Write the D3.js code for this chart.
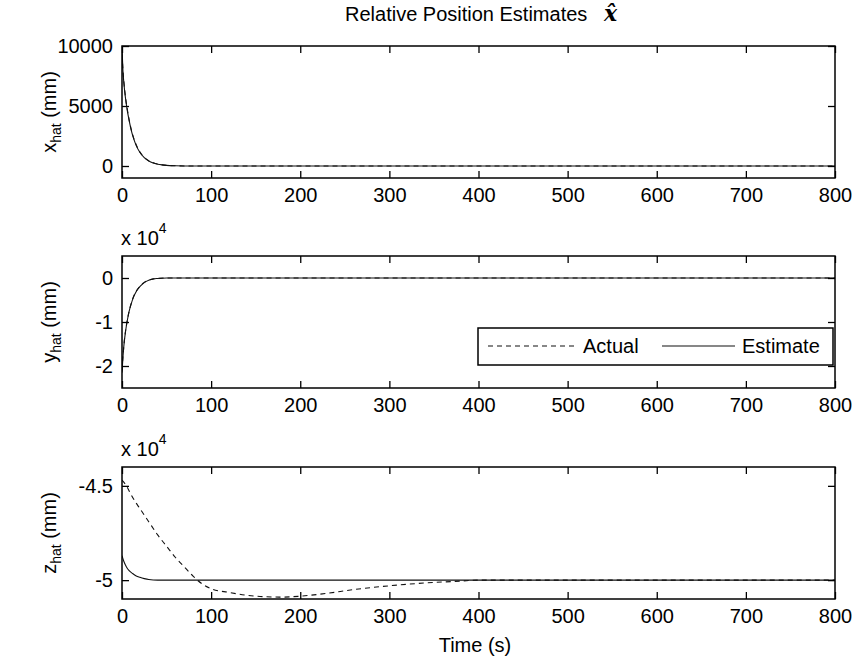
<!DOCTYPE html>
<html>
<head>
<meta charset="utf-8">
<script src="https://cdn.jsdelivr.net/npm/d3@7"></script>
<style>
  body { margin: 0; background: #fff; }
  svg { display: block; font-family: 'Liberation Sans', Arial, sans-serif; }
</style>
</head>
<body>
<div id="chart"></div>
<script>
// time ticks shared by all three panels
const timeTicks = [0, 100, 200, 300, 400, 500, 600, 700, 800];

// x_hat (mm)
const xTime     = [0, 1, 2, 4, 6, 8, 10, 13, 16, 20, 25, 30, 35, 40, 45, 50, 60, 80, 800];
const xActual   = [9300, 8100, 7100, 5700, 4700, 3850, 3150, 2350, 1750, 1180, 720, 440, 270, 160, 95, 55, 20, 0, 0];
const xEstimate = [9900, 8000, 7000, 5600, 4600, 3800, 3100, 2300, 1700, 1150, 700, 420, 250, 150, 90, 50, 20, 0, 0];
const xYTicks = [0, 5000, 10000];

// y_hat (mm)
const yTime     = [0, 1, 2, 4, 6, 8, 10, 13, 16, 20, 25, 30, 35, 40, 50, 800];
const yActual   = [-21000, -18000, -15500, -12000, -9500, -7500, -6000, -4200, -3000, -1900, -1000, -500, -200, -100, 0, 0];
const yEstimate = [-21500, -18200, -15600, -12100, -9600, -7600, -6100, -4300, -3050, -1950, -1050, -520, -220, -100, 0, 0];
const yYTicks = [-20000, -10000, 0];

// z_hat (mm)
const zActualTime = [0, 5, 10, 15, 20, 25, 30, 40, 50, 60, 70, 80, 90, 100, 120, 140, 160, 180, 200, 230, 260, 300, 340, 380, 400, 800];
const zActual     = [-44700, -45000, -45450, -45850, -46200, -46550, -46900, -47600, -48200, -48800, -49300, -49800, -50200, -50450, -50650, -50800, -50880, -50900, -50850, -50700, -50500, -50300, -50150, -50050, -50000, -50000];
const zEstTime    = [0, 2, 5, 8, 12, 16, 20, 25, 30, 40, 800];
const zEstimate   = [-48700, -49000, -49300, -49500, -49650, -49780, -49850, -49920, -49970, -50000, -50000];
const zYTicks = [-50000, -45000];

const legendLabels = ['Actual', 'Estimate'];

const width = 854, height = 662;
const left = 122, right = 835, panelH = 132;

const svg = d3.select('#chart').append('svg')
    .attr('width', width)
    .attr('height', height);

const x = d3.scaleLinear().domain([0, 800]).range([left, right]);

const panels = [
    { top: 46,  domain: [-1000, 10000],  ticks: xYTicks, fmt: d => d, sub: 'x', exp: false,
      actual: xTime.map((t, i) => [t, xActual[i]]), est: xTime.map((t, i) => [t, xEstimate[i]]) },
    { top: 256, domain: [-25000, 5000],  ticks: yYTicks, fmt: d => d / 10000, sub: 'y', exp: true,
      actual: yTime.map((t, i) => [t, yActual[i]]), est: yTime.map((t, i) => [t, yEstimate[i]]) },
    { top: 467, domain: [-51000, -44000], ticks: zYTicks, fmt: d => d / 10000, sub: 'z', exp: true,
      actual: zActualTime.map((t, i) => [t, zActual[i]]), est: zEstTime.map((t, i) => [t, zEstimate[i]]) }
];

panels.forEach((p, idx) => {
    const y = d3.scaleLinear().domain(p.domain).range([p.top + panelH, p.top]);
    const g = svg.append('g');

    g.append('clipPath').attr('id', 'clip' + idx)
        .append('rect').attr('x', left).attr('y', p.top).attr('width', right - left).attr('height', panelH);

    const line = d3.line().x(d => x(d[0])).y(d => y(d[1])).curve(d3.curveMonotoneX);

    g.append('path').datum(p.actual)
        .attr('d', line).attr('fill', 'none').attr('stroke', '#111')
        .attr('stroke-width', 1.1).attr('stroke-dasharray', '5,4')
        .attr('clip-path', `url(#clip${idx})`);
    g.append('path').datum(p.est)
        .attr('d', line).attr('fill', 'none').attr('stroke', '#111')
        .attr('stroke-width', 1.1)
        .attr('clip-path', `url(#clip${idx})`);

    // axes with inward ticks, MATLAB box style
    g.append('g').attr('transform', `translate(0,${p.top + panelH})`)
        .call(d3.axisBottom(x).tickValues(timeTicks).tickSize(-7).tickPadding(10));
    g.append('g').attr('transform', `translate(0,${p.top})`)
        .call(d3.axisTop(x).tickValues(timeTicks).tickSize(-7).tickFormat(''));
    g.append('g').attr('transform', `translate(${left},0)`)
        .call(d3.axisLeft(y).tickValues(p.ticks).tickSize(-7).tickPadding(9).tickFormat(p.fmt));
    g.append('g').attr('transform', `translate(${right},0)`)
        .call(d3.axisRight(y).tickValues(p.ticks).tickSize(-7).tickFormat(''));

    g.selectAll('.domain').remove();
    g.selectAll('.tick line').attr('stroke', '#000').attr('stroke-width', 1.3);
    g.selectAll('.tick text').attr('font-size', 20).attr('fill', '#000')
        .attr('font-family', "'Liberation Sans', Arial, sans-serif");

    g.append('rect')
        .attr('x', left).attr('y', p.top).attr('width', right - left).attr('height', panelH)
        .attr('fill', 'none').attr('stroke', '#000').attr('stroke-width', 1.5);

    // y label with subscript
    const yl = g.append('text')
        .attr('transform', `translate(56,${p.top + panelH / 2}) rotate(-90)`)
        .attr('text-anchor', 'middle').attr('font-size', 20);
    yl.append('tspan').text(p.sub);
    yl.append('tspan').attr('font-size', 14).attr('dy', 5).text('hat');
    yl.append('tspan').attr('dy', -5).text(' (mm)');

    if (p.exp) {
        const ex = g.append('text').attr('x', 121).attr('y', p.top - 11).attr('font-size', 20);
        ex.append('tspan').text('x 10');
        ex.append('tspan').attr('font-size', 14).attr('dy', -12).text('4');
    }

    if (idx === 1) {
        const lg = g.append('g');
        lg.append('rect').attr('x', 478).attr('y', 328).attr('width', 355).attr('height', 37)
            .attr('fill', '#fff').attr('stroke', '#000').attr('stroke-width', 1.5);
        lg.append('line').attr('x1', 488).attr('x2', 577).attr('y1', 346).attr('y2', 346)
            .attr('stroke', '#111').attr('stroke-width', 1.1).attr('stroke-dasharray', '5,4');
        lg.append('text').attr('x', 583).attr('y', 353).attr('font-size', 20).text(legendLabels[0]);
        lg.append('line').attr('x1', 662).attr('x2', 735).attr('y1', 346).attr('y2', 346)
            .attr('stroke', '#111').attr('stroke-width', 1.1);
        lg.append('text').attr('x', 742).attr('y', 353).attr('font-size', 20).text(legendLabels[1]);
    }
});

// title
const title = svg.append('text').attr('x', 345).attr('y', 21).attr('font-size', 20);
title.append('tspan').text('Relative Position Estimates');
title.append('tspan').attr('x', 604).attr('font-family', "'DejaVu Serif', serif")
    .attr('font-weight', 'bold').attr('font-style', 'italic').attr('font-size', 22).text('x\u0302');

svg.append('text').attr('x', 475).attr('y', 652).attr('text-anchor', 'middle')
    .attr('font-size', 20).text('Time (s)');
</script>
</body>
</html>
